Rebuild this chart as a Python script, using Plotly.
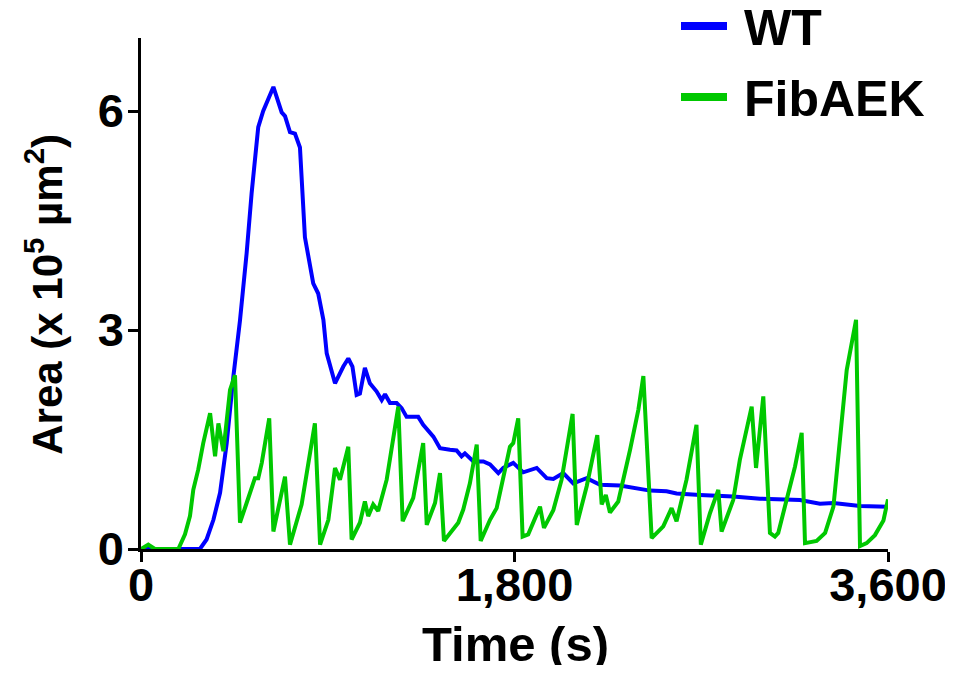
import plotly.graph_objects as go

# WT series (time s, area x10^5 um^2)
wt_t = [0, 284, 316, 349, 381, 413, 445, 477, 509, 533, 565, 589, 638, 678, 694, 718, 742, 766,
        790, 830, 854, 879, 895, 935, 975, 999, 1019, 1039, 1055, 1079, 1103, 1135, 1160, 1176,
        1200, 1232, 1256, 1280, 1336, 1360, 1409, 1441, 1489, 1521, 1545, 1561, 1602, 1650,
        1682, 1722, 1746, 1794, 1842, 1907, 1955, 1987, 2035, 2083, 2148, 2212, 2308, 2372,
        2453, 2533, 2581, 2694, 2854, 2983, 3095, 3176, 3272, 3337, 3465, 3600]
wt_y = [0, 0, 0.13, 0.40, 0.77, 1.45, 2.36, 3.13, 4.05, 4.87, 5.78, 6.00, 6.33, 5.98, 5.93, 5.71,
        5.69, 5.50, 4.27, 3.64, 3.50, 3.14, 2.68, 2.27, 2.50, 2.61, 2.50, 2.11, 2.13, 2.48, 2.27,
        2.16, 2.04, 2.12, 2.00, 2.00, 1.93, 1.81, 1.81, 1.70, 1.54, 1.38, 1.36, 1.35, 1.27, 1.31,
        1.20, 1.20, 1.16, 1.04, 1.11, 1.18, 1.05, 1.11, 0.97, 0.96, 1.04, 0.90, 0.97, 0.88, 0.87,
        0.84, 0.80, 0.79, 0.76, 0.74, 0.72, 0.69, 0.68, 0.67, 0.62, 0.63, 0.59, 0.58]

# FibAEK series
fib_t = [0, 35, 67, 180, 212, 236, 252, 276, 300, 333, 357, 373, 397, 429, 453, 477, 509, 549,
         565, 582, 618, 638, 694, 718, 774, 838, 863, 903, 935, 959, 999, 1015, 1055, 1079, 1095,
         1119, 1143, 1184, 1240, 1261, 1312, 1360, 1377, 1417, 1441, 1460, 1529, 1553, 1585,
         1618, 1637, 1682, 1714, 1778, 1794, 1818, 1839, 1866, 1923, 1942, 1987, 2027, 2080,
         2100, 2148, 2199, 2220, 2240, 2260, 2300, 2357, 2397, 2421, 2461, 2517, 2557, 2581,
         2629, 2677, 2698, 2742, 2782, 2798, 2854, 2886, 2943, 2964, 2999, 3031, 3055, 3071,
         3111, 3152, 3184, 3200, 3256, 3297, 3337, 3369, 3401, 3446, 3465, 3497, 3537, 3578, 3600]
fib_y = [0, 0.06, 0, 0, 0.20, 0.45, 0.81, 1.09, 1.45, 1.86, 1.27, 1.72, 1.34, 2.18, 2.38, 0.36,
         0.63, 0.97, 0.97, 1.18, 1.79, 0.24, 0.99, 0.06, 0.61, 1.72, 0.06, 0.40, 1.11, 0.95, 1.40,
         0.13, 0.36, 0.65, 0.45, 0.61, 0.52, 0.95, 1.95, 0.38, 0.70, 1.45, 0.33, 0.63, 1.04, 0.11,
         0.36, 0.54, 0.90, 1.43, 0.11, 0.40, 0.56, 1.40, 1.45, 1.79, 0.17, 0.20, 0.58, 0.29, 0.53,
         0.95, 1.85, 0.33, 0.86, 1.56, 0.61, 0.74, 0.50, 0.65, 1.36, 1.91, 2.37, 0.15, 0.31, 0.56,
         0.38, 0.95, 1.70, 0.06, 0.49, 0.81, 0.24, 0.67, 1.22, 1.95, 1.11, 2.09, 0.22, 0.17, 0.22,
         0.68, 1.13, 1.59, 0.08, 0.11, 0.22, 0.58, 1.45, 2.45, 3.14, 0.04, 0.08, 0.19, 0.39, 0.68]

x_ticks = [0, 1800, 3600]
x_tick_text = ["0", "1,800", "3,600"]
y_ticks = [0, 3, 6]
y_tick_text = ["0", "3", "6"]

series_names = ["WT", "FibAEK"]
series_colors = ["#0000ff", "#00c800"]

FONT = "Liberation Sans, Arial, sans-serif"

fig = go.Figure()
fig.add_trace(go.Scatter(x=wt_t, y=wt_y, mode="lines", name=series_names[0],
                         line=dict(color=series_colors[0], width=4), showlegend=False))
fig.add_trace(go.Scatter(x=fib_t, y=fib_y, mode="lines", name=series_names[1],
                         line=dict(color=series_colors[1], width=4), showlegend=False))

# the page body adds an 8px margin, so the figure sits at (8, 8) in the window
OFF = 8
W, H = 953 - 2 * OFF, 673 - 2 * OFF
plot_left, plot_right, plot_top, plot_bottom = 141 - OFF, 888 - OFF, 38 - OFF, 549.5 - OFF
L, R, T, B = plot_left, W - plot_right, plot_top, H - plot_bottom
pw, ph = plot_right - plot_left, plot_bottom - plot_top

def px2paper_x(px):
    return (px - OFF - plot_left) / pw

def py2paper_y(py):
    return (plot_bottom - (py - OFF)) / ph

axis_common = dict(showline=True, linecolor="black", linewidth=2.5,
                   ticks="outside", ticklen=10, tickwidth=2.5, tickcolor="black",
                   showgrid=False, zeroline=False, ticklabeloverflow="allow",
                   tickfont=dict(family=FONT, size=47, color="black", weight="bold"))

fig.update_layout(
    width=W, height=H,
    margin=dict(l=L, r=R, t=T, b=B, autoexpand=False),
    paper_bgcolor="white", plot_bgcolor="white",
    xaxis=dict(range=[0, 3600], tickvals=x_ticks, ticktext=x_tick_text,
               ticklabelstandoff=-17, **axis_common),
    yaxis=dict(range=[0, 7], tickvals=y_ticks, ticktext=y_tick_text,
               ticklabelstandoff=-5, **axis_common),
)

# axis titles
fig.add_annotation(text="Time (s)", xref="paper", yref="paper",
                   x=px2paper_x(515), y=py2paper_y(645), xanchor="center", yanchor="middle",
                   showarrow=False,
                   font=dict(family=FONT, size=49, color="black", weight="bold"))
fig.add_annotation(text="Area (x 10<sup>5</sup> µm<sup>2</sup>)", xref="paper", yref="paper",
                   x=px2paper_x(44), y=py2paper_y(295), xanchor="center", yanchor="middle",
                   textangle=-90, showarrow=False,
                   font=dict(family=FONT, size=42, color="black", weight="bold"))

# manual legend
legend_rows_py = [26, 97]
for name, color, py in zip(series_names, series_colors, legend_rows_py):
    fig.add_shape(type="line", xref="paper", yref="paper",
                  x0=px2paper_x(681), x1=px2paper_x(727),
                  y0=py2paper_y(py), y1=py2paper_y(py),
                  line=dict(color=color, width=8))
    fig.add_annotation(text=name, xref="paper", yref="paper",
                       x=px2paper_x(742), y=py2paper_y(py + 2), xanchor="left", yanchor="middle",
                       showarrow=False,
                       font=dict(family=FONT, size=50, color="black", weight="bold"))

fig.write_html("out.html")
